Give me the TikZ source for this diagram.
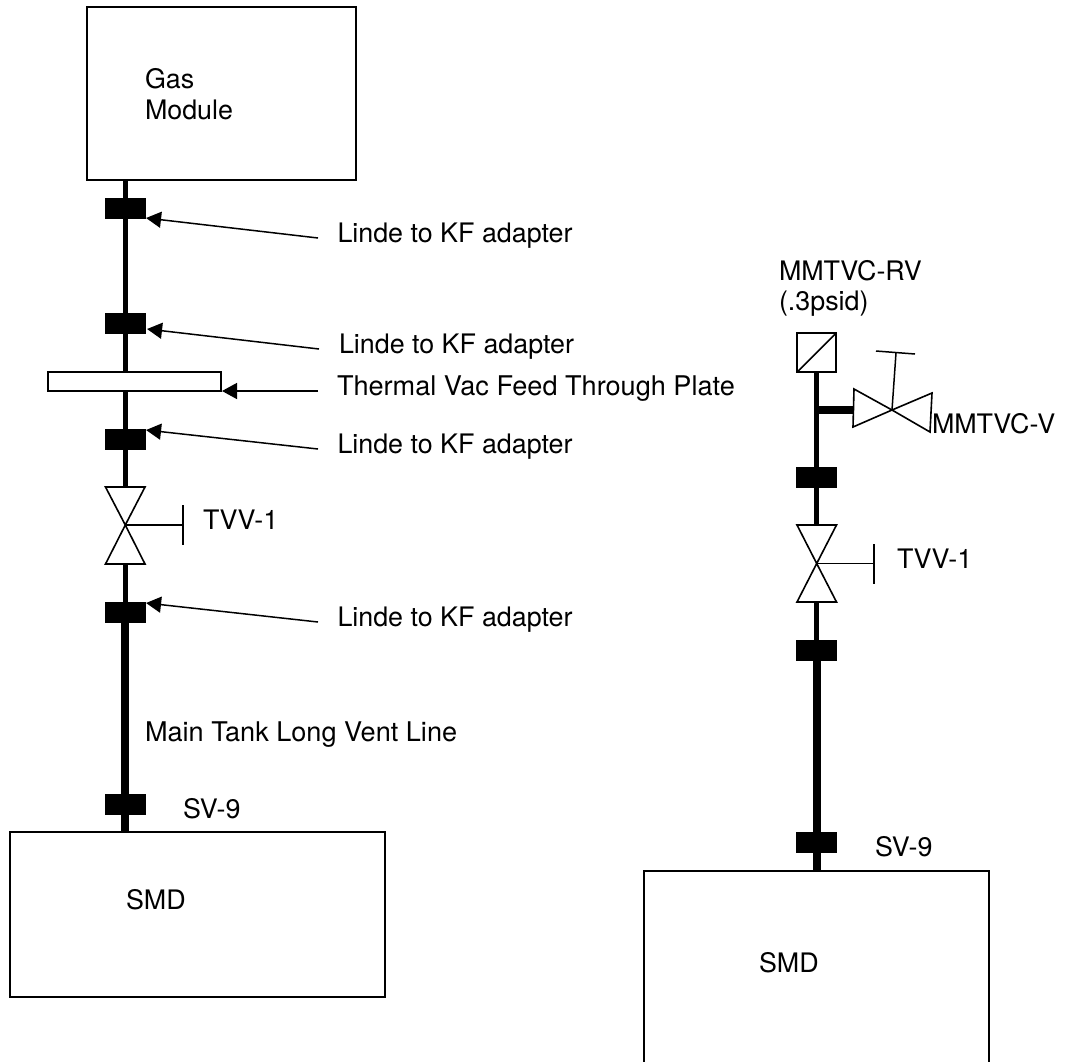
\documentclass[tikz,border=0pt]{standalone}
\usepackage{fontspec}
\setmainfont{TeX Gyre Heros}
\usetikzlibrary{arrows.meta}
\tikzset{
  box/.style={draw=black,line width=2pt,fill=white,rectangle,inner sep=0pt,outer sep=0pt},
  fitting/.style={draw=none,fill=black,rectangle,inner sep=0pt,outer sep=0pt,minimum width=40.5pt,minimum height=21pt},
  lbl/.style={anchor=base west,inner sep=0pt,outer sep=0pt,font=\fontsize{26.85}{30}\selectfont},
  lblwide/.style={lbl,font=\fontsize{27.1}{30}\selectfont},
  thinpipe/.style={line width=4.5pt,draw=black},
  thickpipe/.style={line width=8pt,draw=black},
  callout/.style={line width=1.5pt,draw=black,-{Triangle[length=15pt,width=16pt]}},
  valveline/.style={line width=1.6pt,draw=black,fill=white,line join=miter},
  stemline/.style={line width=1.5pt,draw=black},
}
\begin{document}
\begin{tikzpicture}[x=1pt,y=-1pt]
\useasboundingbox (0,0) rectangle (1074,1061);
% --- left column: nodes
\node[box,minimum width=269pt,minimum height=173pt] (gas) at (221.5,93.5) {};
\node[box,minimum width=375pt,minimum height=165pt] (smdL) at (197.5,914.5) {};
\node[box,minimum width=173pt,minimum height=19pt] (plate) at (134.5,381.5) {};
\node[fitting] (f1) at (125.3,208.5) {};
\node[fitting] (f2) at (125.3,323.5) {};
\node[fitting] (f3) at (125.3,439.5) {};
\node[fitting] (f4) at (125.3,612.5) {};
\node[fitting] (f5) at (125.3,804.5) {};
\coordinate (vL) at (125.3,525);
\coordinate (vLt) at (125.3,487);
\coordinate (vLb) at (125.3,564);
\coordinate (vLh) at (183,525);
% pipes
\draw[thinpipe] (gas.south -| f1) -- (f1);
\draw[thinpipe] (f1) -- (f2);
\draw[thinpipe] (f2) -- (f2 |- plate.north);
\draw[thinpipe] (f3 |- plate.south) -- (f3);
\draw[thinpipe] (f3) -- (vLt);
\draw[thinpipe] (vLb) -- (f4);
\draw[thickpipe] (f4) -- (f5);
\draw[thickpipe] (f5) -- (f5 |- smdL.north);
% valve
\draw[valveline] (105.5,487) -- (145,487) -- (vL) -- cycle;
\draw[valveline] (105.5,564) -- (145,564) -- (vL) -- cycle;
\draw[stemline] (vL) -- (vLh);
\draw[stemline] (183,505) -- (183,545);
% labels
\node[lbl] (g1) at (145,88) {Gas};
\node[lbl] (g2) at (145,119) {Module};
\node[lbl] (a1) at (337.5,242) {Linde to KF adapter};
\node[lbl] (a2) at (339,353) {Linde to KF adapter};
\node[lblwide] (pl) at (337,395) {Thermal Vac Feed Through Plate};
\node[lbl] (a3) at (337.5,453) {Linde to KF adapter};
\node[lbl] (a4) at (337.5,626) {Linde to KF adapter};
\node[lbl] (tv) at (203,529) {TVV-1};
\node[lblwide] (mt) at (145,741) {Main Tank Long Vent Line};
\node[lbl] (sv) at (183,818) {SV-9};
\node[lbl] (sm) at (126,909) {SMD};
% callouts
\coordinate (c1) at (318,238);
\coordinate (c2) at (319,349);
\coordinate (c3) at (318,391);
\coordinate (c4) at (318,449);
\coordinate (c5) at (318,622);
\draw[callout] (c1) -- ([shift={(0.5,-1)}]f1.south east);
\draw[callout] (c2) -- ([shift={(1.5,-5)}]f2.south east);
\draw[callout] (c3) -- ([shift={(1,0)}]plate.south east);
\draw[callout] (c4) -- ([shift={(0.5,1)}]f3.north east);
\draw[callout] (c5) -- ([shift={(0.5,1)}]f4.north east);
% --- right column: nodes
\node[box,minimum width=39pt,minimum height=39pt] (rv) at (816.7,352.5) {};
\draw[stemline] (rv.south west) -- (rv.north east);
\node[fitting] (r1) at (816.7,477.5) {};
\node[fitting] (r2) at (816.7,650.5) {};
\node[fitting] (r3) at (816.7,842.5) {};
\coordinate (vR) at (816.7,563.5);
\coordinate (vRt) at (816.7,525);
\coordinate (vRb) at (816.7,602);
\coordinate (vRh) at (874,563.5);
\coordinate (tee) at (816.7,410);
\coordinate (vHl) at (853.5,410);
\coordinate (vH) at (892,410);
\coordinate (vHs) at (896,353);
\coordinate (smdRtop) at (816.7,871);
% pipes
\draw[thinpipe] (rv.south) -- (tee);
\draw[thinpipe] (tee) -- (r1);
\draw[thickpipe] (tee) -- (vHl);
\draw[thinpipe] (r1) -- (vRt);
\draw[thinpipe] (vRb) -- (r2);
\draw[thickpipe] (r2) -- (r3);
\draw[thickpipe] (r3) -- (smdRtop);
% valves
\draw[valveline] (854,389) -- (853,427) -- (vH) -- cycle;
\draw[valveline] (932,393) -- (930,432) -- (vH) -- cycle;
\draw[stemline] (vH) -- (vHs);
\draw[stemline] (876,351) -- (915,354);
\draw[valveline] (797,525) -- (836.5,525) -- (vR) -- cycle;
\draw[valveline] (797,602) -- (836.5,602) -- (vR) -- cycle;
\draw[stemline] (vR) -- (vRh);
\draw[stemline] (874,544) -- (874,583.5);
% SMD right (runs off the bottom edge)
\draw[line width=2pt,draw=black] (643.7,1062) -- (643.7,871) -- (989,871) -- (989,1062);
% labels
\node[lbl] (rv1) at (779,280) {MMTVC-RV};
\node[lbl] (rv2) at (779,310) {(.3psid)};
\node[lbl] (mv) at (932,433) {MMTVC-V};
\node[lbl] (tv2) at (897,568) {TVV-1};
\node[lbl] (sv2) at (875,856) {SV-9};
\node[lbl] (sm2) at (759,972) {SMD};
\end{tikzpicture}
\end{document}
